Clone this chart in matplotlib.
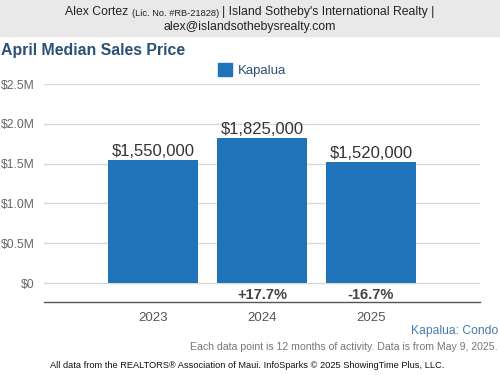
import matplotlib.pyplot as plt
import matplotlib.patches as mpatches

# chart values
years = ["2023", "2024", "2025"]
prices = [1550000, 1825000, 1520000]
changes = ["", "+17.7%", "-16.7%"]
yticks = [0, 500000, 1000000, 1500000, 2000000, 2500000]
ytick_labels = ["$0", "$0.5M", "$1.0M", "$1.5M", "$2.0M", "$2.5M"]

plt.rcParams['font.family'] = ['Liberation Sans', 'DejaVu Sans']

W, H = 500, 375
fig = plt.figure(figsize=(5, 3.75), dpi=100)

def px(x, y):
    return x / W, 1 - y / H

# header band
fig.patches.append(mpatches.Rectangle((0, 1 - 36 / H), 1, 36 / H, transform=fig.transFigure,
                                      color="#e9e9e9", zorder=0))
fig.text(*px(65, 12), "Alex Cortez", fontsize=8.8, va="center", ha="left", color="#222222")
fig.text(*px(132, 13), "(Lic. No. #RB-21828)", fontsize=6.7, va="center", ha="left", color="#222222")
fig.text(*px(222, 12), "| Island Sotheby's International Realty |", fontsize=8.8, va="center",
         ha="left", color="#222222")
fig.text(*px(250, 27), "alex@islandsothebysrealty.com", fontsize=8.8, va="center", ha="center",
         color="#222222")

# title
fig.text(*px(1, 50), "April Median Sales Price", fontsize=11.4, fontweight="bold", color="#2b5078",
         va="center", ha="left")

ax = fig.add_axes([44 / W, 1 - 302 / H, 436 / W, 218 / H])
x = list(range(len(years)))
bars = ax.bar(x, prices, width=0.82, color="#1f73b8", zorder=3, label="Kapalua")

for i, p in enumerate(prices):
    ax.annotate("${:,}".format(p), (x[i], p), xytext=(0, 0.5), textcoords="offset points",
                ha="center", va="bottom", fontsize=12, color="#333333")
    if changes[i]:
        ax.text(x[i], -0.15e6, changes[i], ha="center", va="center", fontsize=10.5,
                fontweight="bold", color="#444444")

ax.set_xlim(-1, 3)
ax.set_ylim(-0.2375e6, 2.5e6)
ax.set_yticks(yticks)
ax.set_yticklabels(ytick_labels)
ax.set_xticks(x)
ax.set_xticklabels(years)
ax.tick_params(axis="y", length=0, pad=6.5, labelsize=8.7, labelcolor="#666666")
ax.tick_params(axis="x", length=0, pad=7, labelsize=9.5, labelcolor="#555555")
ax.grid(axis="y", color="#d9d9d9", linewidth=1, zorder=0)
for s in ["top", "right", "left"]:
    ax.spines[s].set_visible(False)
ax.spines["bottom"].set_color("#555555")
ax.spines["bottom"].set_linewidth(1)

fig.legend(handles=[mpatches.Patch(color="#1f73b8", label="Kapalua")], loc="center",
           bbox_to_anchor=px(252, 70), frameon=False, fontsize=9.5, handlelength=1.1,
           handleheight=1.1, handletextpad=0.4, labelcolor="#2b5078")

fig.text(*px(498, 331), "Kapalua: Condo", fontsize=8.7, color="#4a7ab2", ha="right", va="center")
fig.text(*px(497, 347), "Each data point is 12 months of activity. Data is from May 9, 2025.",
         fontsize=7.55, color="#777777", ha="right", va="center")
fig.text(*px(50, 366), "All data from the REALTORS\u00ae Association of Maui. InfoSparks \u00a9 2025 ShowingTime Plus, LLC.",
         fontsize=6.7, color="#111111", ha="left", va="center")

fig.savefig("out.png", dpi=100)
